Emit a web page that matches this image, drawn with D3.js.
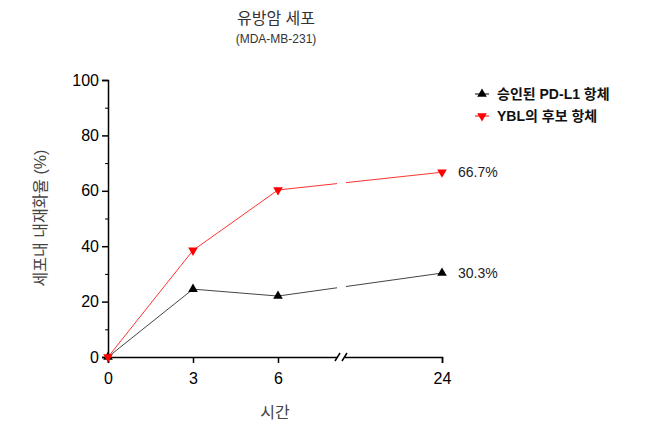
<!DOCTYPE html><html><head><meta charset="utf-8"><script src="https://cdn.jsdelivr.net/npm/d3@7"></script>
<style>body{margin:0;background:#fff}text{font-family:Arial,"Liberation Sans","Noto Sans CJK KR",sans-serif}</style></head><body><svg id="c" width="647" height="434"></svg>
<script>
const times=[0,3,6,24];
const xTicks=["0","3","6","24"];
const yTicks=[0,20,40,60,80,100];
const approved=[0,24.5,22,30.3];
const ybl=[0,38.5,60.3,66.7];
const seriesNames=["승인된 PD-L1 항체","YBL의 후보 항체"];
const endLabels=["30.3%","66.7%"];
const svg=d3.select("#c");
const x=d3.scaleLinear().domain([0,3,6,24]).range([108,193,278,442]);
const y=d3.scaleLinear().domain([0,100]).range([357,80]);
const ff='Arial,"Liberation Sans","Noto Sans CJK KR",sans-serif';
svg.append("text").attr("x",276).attr("y",24).attr("text-anchor","middle").attr("font-size",16).attr("fill","#333").text("유방암 세포");
svg.append("text").attr("x",276).attr("y",43).attr("text-anchor","middle").attr("font-size",12).attr("fill","#333").text("(MDA-MB-231)");
const line=d3.line().x((d,i)=>x(times[i])).y(d=>y(d));
svg.append("path").datum(approved).attr("d",line).attr("fill","none").attr("stroke","#444").attr("stroke-width",1);
svg.append("path").datum(ybl).attr("d",line).attr("fill","none").attr("stroke","#f33").attr("stroke-width",1);
svg.append("rect").attr("x",337).attr("y",70).attr("width",9).attr("height",292).attr("fill","#fff");
// axes
const xa=svg.append("g").attr("transform","translate(0,357)").call(d3.axisBottom(x).tickValues(times).tickFormat((d,i)=>xTicks[i]).tickSizeOuter(0).tickSize(6));
const ya=svg.append("g").attr("transform","translate(108,0)").call(d3.axisLeft(y).tickValues(yTicks).tickSizeOuter(0).tickSize(6));
svg.append("g").attr("transform","translate(108,0)").call(d3.axisLeft(y).tickValues(d3.range(10,100,20)).tickSize(3).tickFormat("")).select(".domain").remove();
[xa,ya].forEach(a=>{a.selectAll("path,line").attr("stroke","#000").attr("stroke-width",1.5);a.selectAll("text").attr("font-size",16).attr("fill","#000").attr("font-family",ff);});
xa.selectAll("text").attr("dy","1.1em");
svg.append("rect").attr("x",337).attr("y",352).attr("width",8).attr("height",10).attr("fill","#fff");
[335,342].forEach(sx=>svg.append("line").attr("x1",sx).attr("y1",361).attr("x2",sx+5).attr("y2",353).attr("stroke","#000").attr("stroke-width",1.5));
// markers
const up=d3.symbol().type(d3.symbolTriangle).size(40);
svg.selectAll(".m1").data(approved).join("path").attr("d",up).attr("transform",(d,i)=>`translate(${x(times[i])},${y(d)})`).attr("fill","#000");
svg.selectAll(".m2").data(ybl).join("path").attr("d",up).attr("transform",(d,i)=>`translate(${x(times[i])},${y(d)}) rotate(180)`).attr("fill","#f00");
svg.append("text").attr("x",458).attr("y",y(30.3)+5).attr("font-size",14).attr("fill","#222").text(endLabels[0]);
svg.append("text").attr("x",458).attr("y",y(66.7)+5).attr("font-size",14).attr("fill","#222").text(endLabels[1]);
// legend
[[0,"#000",0],[1,"#f00",180]].forEach(([i,c,r])=>{const ly=94+i*22;
svg.append("line").attr("x1",475).attr("x2",489).attr("y1",ly).attr("y2",ly).attr("stroke",c).attr("stroke-width",1);
svg.append("path").attr("d",up).attr("transform",`translate(482,${ly}) rotate(${r})`).attr("fill",c);
svg.append("text").attr("x",497).attr("y",ly+5).attr("font-size",14).attr("font-weight","bold").attr("fill","#111").text(seriesNames[i]);});
svg.append("text").attr("x",275).attr("y",418).attr("text-anchor","middle").attr("font-size",16).attr("fill","#444").text("시간");
svg.append("text").attr("transform","translate(46,218) rotate(-90)").attr("text-anchor","middle").attr("font-size",16).attr("fill","#444").text("세포내 내재화율 (%)");
</script></body></html>
